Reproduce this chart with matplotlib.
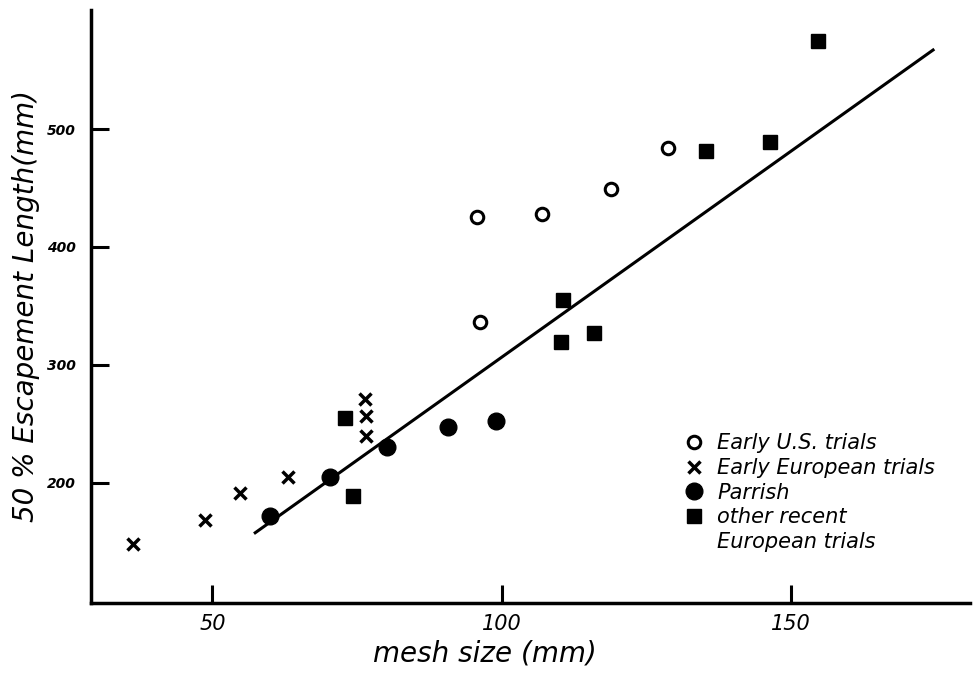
import matplotlib
matplotlib.use("Agg")
import matplotlib.pyplot as plt

# Early U.S. trials (open circles)
us_x = [95.8, 106.9, 118.9, 128.7, 96.2]
us_y = [425, 428, 449, 484, 336]

# Early European trials (crosses)
eu_x = [36.3, 48.8, 54.8, 63.0, 76.3, 76.5, 76.5]
eu_y = [148, 168, 191, 205, 271, 257, 240]

# Parrish (filled circles)
pa_x = [60.0, 70.4, 80.1, 90.8, 99.0]
pa_y = [172, 205, 230, 247, 252]

# Other recent European trials (filled squares)
re_x = [73.0, 74.3, 110.7, 110.2, 115.9, 135.3, 146.4, 154.7]
re_y = [255, 189, 355, 319, 327, 481, 489, 575]

# Fitted line endpoints
fit_x = [57.4, 174.6]
fit_y = [157.6, 567.0]

x_ticks = [50, 100, 150]
y_ticks = [200, 300, 400, 500]

fig = plt.figure(figsize=(9.73, 6.74), dpi=100)
ax = fig.add_axes([0.0935, 0.1053, 0.9035, 0.88])

ax.plot(fit_x, fit_y, color="black", lw=2.2, zorder=2)
ax.plot(us_x, us_y, linestyle="none", marker="o", markersize=9, markerfacecolor="white",
        markeredgecolor="black", markeredgewidth=2.2, label="Early U.S. trials", zorder=3)
ax.plot(eu_x, eu_y, linestyle="none", marker="x", markersize=9, color="black",
        markeredgewidth=2.5, label="Early European trials", zorder=3)
ax.plot(pa_x, pa_y, linestyle="none", marker="o", markersize=12, color="black",
        label="Parrish", zorder=3)
ax.plot(re_x, re_y, linestyle="none", marker="s", markersize=10, color="black",
        label="other recent", zorder=3)
ax.plot([], [], linestyle="none", label="European trials")

ax.set_xlim(29, 181)
ax.set_ylim(98, 601)
ax.set_xticks(x_ticks)
ax.set_yticks(y_ticks)
ax.set_xticklabels([str(v) for v in x_ticks], fontsize=15, style="italic")
ax.set_yticklabels([str(v) for v in y_ticks], fontsize=10, style="italic", fontweight="bold")

for s in ["top", "right"]:
    ax.spines[s].set_visible(False)
for s in ["left", "bottom"]:
    ax.spines[s].set_linewidth(2.5)
ax.tick_params(axis="both", direction="in", length=13, width=2.2, colors="black")
ax.tick_params(axis="x", pad=8)
ax.tick_params(axis="y", pad=11)

ax.set_xlabel("mesh size (mm)", fontsize=20, style="italic")
ax.xaxis.set_label_coords(0.448, -0.062)
ax.set_ylabel("50 % Escapement Length(mm)", fontsize=20, style="italic")
ax.yaxis.set_label_coords(-0.058, 0.5)

leg = ax.legend(loc="upper left", bbox_to_anchor=(0.665, 0.30), frameon=False,
                handletextpad=0.6, labelspacing=0.22, borderaxespad=0,
                handlelength=1.0, prop={"style": "italic", "size": 15})

fig.savefig("out.png", dpi=100)
